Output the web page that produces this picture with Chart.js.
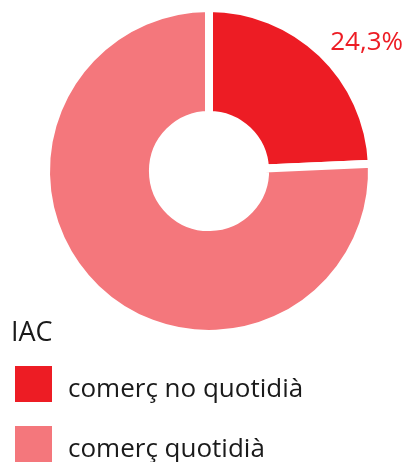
<!DOCTYPE html>
<html>
<head>
<meta charset="utf-8">
<script src="https://cdn.jsdelivr.net/npm/chart.js@4"></script>
<style>
  html,body{margin:0;padding:0;background:#fff}
  #wrap{position:relative;width:408px;height:462px}
</style>
</head>
<body>
<div id="wrap"><canvas id="c" width="408" height="462"></canvas></div>
<script>
// IAC doughnut
const labels = ['comerç no quotidià', 'comerç quotidià'];
const values = [24.3, 75.7];
const colors = ['#ED1C24', '#F4777C'];
const legendTitle = 'IAC';
const shownLabel = '24,3%'; // only first slice gets a label

const FONT = '"Open Sans", sans-serif';

// labels + legend drawn on canvas
const extras = {
  id:'extras',
  afterDraw(chart){
    const ctx = chart.ctx;
    ctx.save();
    // value label top right of the red slice
    ctx.fillStyle = colors[0];
    ctx.font = '26px ' + FONT;
    ctx.textAlign = 'right';
    ctx.textBaseline = 'alphabetic';
    ctx.fillText(shownLabel, 403, 50);
    // legend
    ctx.textAlign = 'left';
    ctx.fillStyle = '#1a1a1a';
    ctx.font = '27px ' + FONT;
    ctx.fillText(legendTitle, 11, 341);
    ctx.font = '26px ' + FONT;
    chart.data.labels.forEach((l,i)=>{
      const y = 366 + i*60;
      ctx.fillStyle = chart.data.datasets[0].backgroundColor[i];
      ctx.fillRect(15, y, 37, 36);
      ctx.fillStyle = '#1a1a1a';
      ctx.fillText(l, 68, y + 31);
    });
    ctx.restore();
  }
};

// white border makes the parallel gaps (and eats 4px of the ring on each side)
new Chart(document.getElementById('c'), {
  type:'doughnut',
  data:{labels, datasets:[{data:values, backgroundColor:colors, borderColor:'#fff', borderWidth:8, borderAlign:'center'}]},
  options:{
    responsive:false,
    animation:false,
    cutout:'34.4%',
    layout:{padding:{top:4, bottom:124, left:42, right:32}},
    plugins:{legend:{display:false}, tooltip:{enabled:false}}
  },
  plugins:[extras]
});
</script>
</body>
</html>
